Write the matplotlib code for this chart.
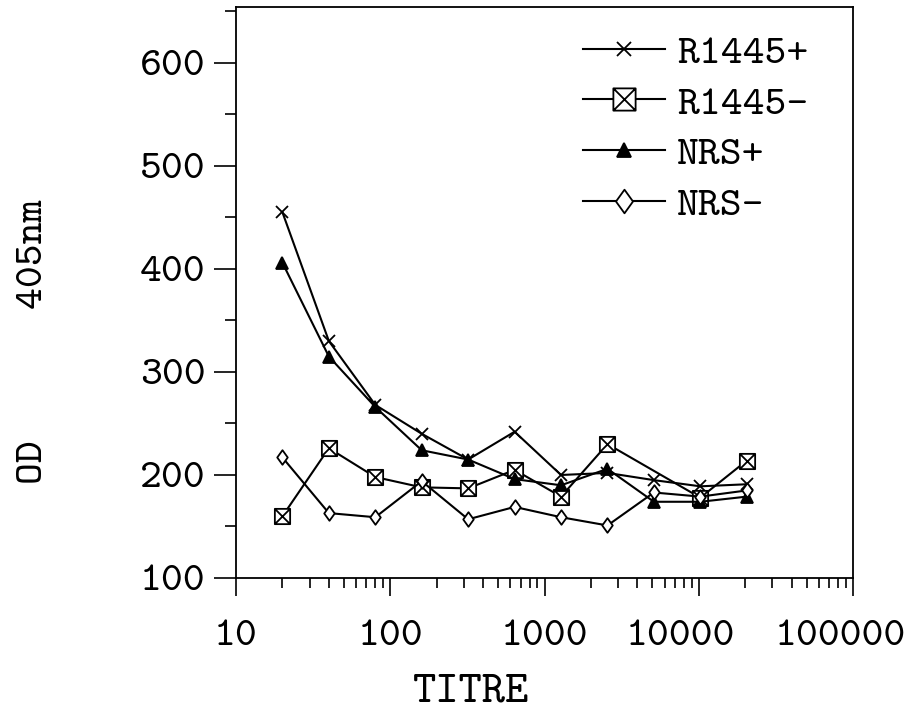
import matplotlib
matplotlib.use("Agg")
import matplotlib.pyplot as plt
from matplotlib.path import Path
from matplotlib.transforms import ScaledTranslation

# ---- data ----
titre = [20, 40, 80, 160, 320, 640, 1280, 2560, 5120, 10240, 20480]
r1445_pos = [455, 330, 268, 240, 215, 242, 200, 202, 195, 189, 191]
r1445_neg = [160, 226, 198, 188, 187, 205, 179, 230, None, 178, 214]
nrs_pos = [406, 315, 266, 224, 215, 196, 190, 206, 174, 174, 179]
nrs_neg = [217, 163, 159, 194, 157, 169, 159, 151, 183, 179, 185]
series_labels = ["R1445+", "R1445-", "NRS+", "NRS-"]
x_ticks = [10, 100, 1000, 10000, 100000]
x_ticklabels = ["10", "100", "1000", "10000", "100000"]
y_ticks = [100, 200, 300, 400, 500, 600]
y_ticklabels = ["100", "200", "300", "400", "500", "600"]

FONT = ["cmtt10", "DejaVu Sans Mono"]
plt.rcParams["font.family"] = FONT
plt.rcParams["axes.unicode_minus"] = False
FS = 30

fig = plt.figure(figsize=(9.24, 7.2), dpi=100)
ax = fig.add_axes([236 / 924, 1 - 578 / 720, (853 - 236) / 924, (578 - 7.3) / 720])

# custom markers
box_x = Path(
    [(-1, -1), (1, -1), (1, 1), (-1, 1), (-1, -1), (-1, -1), (1, 1), (-1, 1), (1, -1)],
    [Path.MOVETO, Path.LINETO, Path.LINETO, Path.LINETO, Path.CLOSEPOLY,
     Path.MOVETO, Path.LINETO, Path.MOVETO, Path.LINETO],
)
diamond = Path(
    [(0, 1), (0.72, 0), (0, -1), (-0.72, 0), (0, 1)],
    [Path.MOVETO, Path.LINETO, Path.LINETO, Path.LINETO, Path.CLOSEPOLY],
)


def clean(xs, ys):
    pts = [(a, b) for a, b in zip(xs, ys) if b is not None]
    return [p[0] for p in pts], [p[1] for p in pts]


lw = 1.5
mew = 1.3
h1, = ax.plot(*clean(titre, r1445_pos), color="black", lw=lw, marker="x",
              ms=9, mew=mew, label=series_labels[0], zorder=3)
h2, = ax.plot(*clean(titre, r1445_neg), color="black", lw=lw, marker=box_x,
              ms=11, mew=mew, mfc="white", mec="black", label=series_labels[1], zorder=3)
h3, = ax.plot(*clean(titre, nrs_pos), color="black", lw=lw, marker="^",
              ms=8.5, mew=mew, mfc="black", label=series_labels[2], zorder=3)
h4, = ax.plot(*clean(titre, nrs_neg), color="black", lw=lw, marker=diamond,
              ms=10.5, mew=mew, mfc="white", mec="black", label=series_labels[3], zorder=3)

ax.set_xscale("log")
ax.set_xlim(10, 100000)
ax.set_ylim(100, 654)

ax.set_xticks(x_ticks)
ax.set_xticklabels(x_ticklabels)
ax.set_yticks(y_ticks)
ax.set_yticklabels(y_ticklabels)
ax.set_yticks([150, 250, 350, 450, 550, 650], minor=True)
ax.set_xticks([v * m for v in [10, 100, 1000, 10000] for m in range(2, 10)], minor=True)
ax.xaxis.set_minor_formatter(matplotlib.ticker.NullFormatter())
ax.yaxis.set_minor_formatter(matplotlib.ticker.NullFormatter())

ax.tick_params(axis="both", which="both", direction="out", width=1.2, color="black",
               top=False, right=False)
ax.tick_params(axis="y", which="major", length=16, pad=6, labelsize=FS)
ax.tick_params(axis="y", which="minor", length=8)
ax.tick_params(axis="x", which="major", length=13, pad=17, labelsize=FS)
ax.tick_params(axis="x", which="minor", length=7)
for sp in ax.spines.values():
    sp.set_linewidth(1.3)

# shift larger x labels slightly left as in the original
shifts = [0, 0, 0, -18, -13]
for lab, s in zip(ax.get_xticklabels(), shifts):
    lab.set_transform(lab.get_transform() + ScaledTranslation(s / 100, 0, fig.dpi_scale_trans))

ax.set_xlabel("TITRE", fontsize=FS + 2)
ax.xaxis.set_label_coords(0.381, -0.168)
ax.set_ylabel("OD      405nm", fontsize=FS)
ax.yaxis.set_label_coords(-0.30, 0.413)

leg = ax.legend(handles=[h1, h2, h3, h4], loc="upper left",
                bbox_to_anchor=(583 / 924, 1 - 34 / 720), bbox_transform=fig.transFigure,
                frameon=False, fontsize=FS, handlelength=1.97, handletextpad=0.29,
                labelspacing=0.3, borderpad=0, borderaxespad=0)
sizes = [9.5, 16, 10, 17]
for hd, s in zip(leg.legend_handles, sizes):
    hd.set_markersize(s)

fig.savefig("out.png", dpi=100)
